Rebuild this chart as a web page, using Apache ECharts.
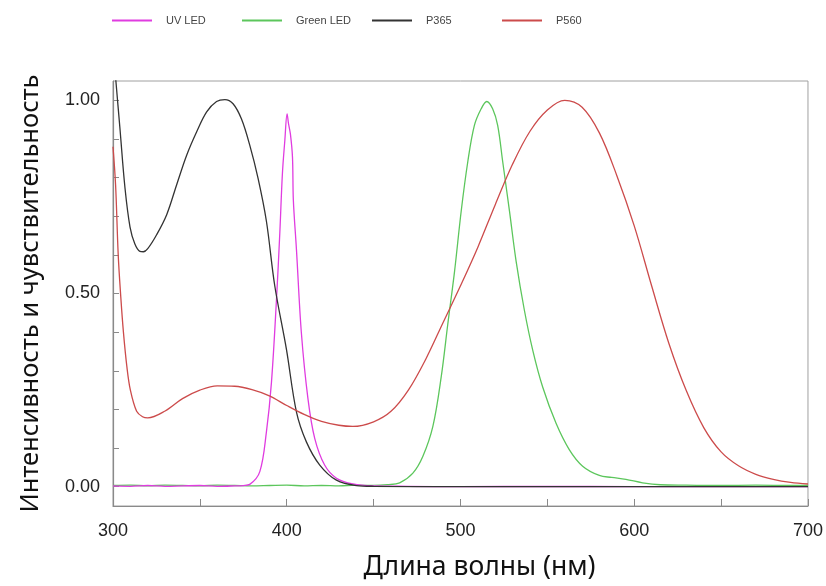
<!DOCTYPE html>
<html>
<head>
<meta charset="utf-8">
<script src="https://cdn.jsdelivr.net/npm/echarts@6/dist/echarts.min.js"></script>
<style>
html, body { margin: 0; padding: 0; background: #fff; }
#chart { width: 826px; height: 586px; }
</style>
</head>
<body>
<div id="chart"></div>
<script>
// длины волн (нм) и значения
var uvNm = [300, 310, 320, 330, 340, 350, 360, 370, 375, 378.7, 384.5, 388.3, 391.2, 394.1, 396, 397.5, 398.9, 400.2, 401, 402.1, 403.3, 403.8, 405.6, 408.4, 412.2, 416.1, 421.8, 428.6, 438.1, 450, 470, 500, 550, 600, 650, 700];
var uvLed = [0.002, 0.001, 0.003, 0.001, 0.002, 0.003, 0.001, 0.002, 0.003, 0.006, 0.039, 0.142, 0.27, 0.485, 0.656, 0.81, 0.896, 0.965, 0.94, 0.913, 0.853, 0.742, 0.613, 0.399, 0.228, 0.125, 0.056, 0.022, 0.007, 0.002, 0.001, 0, 0.001, 0, 0, 0];

var greenNm = [300, 310, 320, 330, 340, 350, 360, 370, 380, 390, 400, 410, 420, 430, 440, 450, 458, 465, 472.6, 478.3, 484.1, 488.9, 492.7, 496.6, 500.4, 504.2, 508, 511.9, 515.1, 518.5, 521.4, 524.3, 528.2, 532, 536.8, 541.6, 547.3, 555, 562.6, 570.3, 579.9, 587, 595.2, 604.8, 615, 630, 650, 670, 690, 700];
var greenLed = [0.003, 0.004, 0.002, 0.004, 0.003, 0.002, 0.004, 0.003, 0.002, 0.003, 0.004, 0.002, 0.003, 0.002, 0.004, 0.003, 0.005, 0.01, 0.035, 0.078, 0.156, 0.284, 0.421, 0.558, 0.713, 0.841, 0.935, 0.978, 0.997, 0.978, 0.935, 0.841, 0.713, 0.584, 0.456, 0.353, 0.258, 0.164, 0.096, 0.053, 0.029, 0.024, 0.019, 0.01, 0.005, 0.004, 0.003, 0.004, 0.003, 0.003];

var p365Nm = [300, 301.7, 304, 306.9, 309.8, 312.6, 315.5, 317.5, 320, 325.1, 330.9, 336.6, 342.4, 348.1, 353.9, 359.6, 364.4, 369.1, 373.9, 378.7, 383.5, 388.3, 393.1, 399.8, 405.6, 411.3, 419, 428.6, 440.1, 450, 500, 600, 700];
var p365 = [1.14, 1.048, 0.927, 0.773, 0.672, 0.628, 0.609, 0.608, 0.616, 0.652, 0.704, 0.781, 0.858, 0.918, 0.97, 0.997, 1.002, 0.991, 0.952, 0.884, 0.798, 0.687, 0.52, 0.356, 0.193, 0.116, 0.056, 0.017, 0.003, 0.001, 0, 0, 0];

var p560Nm = [300, 301.5, 303, 304.5, 306, 308, 310, 313.6, 317, 320, 330, 340, 350, 360, 370, 380, 390, 400, 410, 420, 430, 438, 450, 460, 470, 480, 490, 500, 510, 520, 530, 540, 550, 560, 570, 580, 590, 600, 610, 620, 630, 640, 650, 660, 670, 680, 690, 700];
var p560 = [0.88, 0.78, 0.6, 0.49, 0.4, 0.31, 0.25, 0.195, 0.181, 0.178, 0.196, 0.228, 0.25, 0.261, 0.26, 0.251, 0.235, 0.21, 0.187, 0.169, 0.159, 0.156, 0.168, 0.195, 0.25, 0.33, 0.425, 0.52, 0.62, 0.73, 0.835, 0.92, 0.975, 1.0, 0.982, 0.915, 0.805, 0.675, 0.52, 0.37, 0.248, 0.153, 0.09, 0.054, 0.032, 0.019, 0.011, 0.007];

var xTicks = [300, 350, 400, 450, 500, 550, 600, 650, 700];
var xLabels = [300, 400, 500, 600, 700];
var yTicks = [0, 0.1, 0.2, 0.3, 0.4, 0.5, 0.6, 0.7, 0.8, 0.9, 1.0];
var yLabels = [0, 0.5, 1.0];

var names = ['UV LED', 'Green LED', 'P365', 'P560'];
var colors = ['#e03ce0', '#5cc65c', '#333333', '#cc4b4b'];
var legendLeft = [112, 242, 372, 502];

function pairs(xs, ys) {
	return xs.map(function (x, i) { return [x, ys[i]]; });
}

var myChart = echarts.init(document.getElementById('chart'));

var mkLine = function (idx, xs, ys) {
	return {
		name: names[idx],
		type: 'line',
		data: pairs(xs, ys),
		smooth: 0.35,
		showSymbol: false,
		symbol: 'none',
		lineStyle: { color: colors[idx], width: 1.3 },
		itemStyle: { color: colors[idx] }
	};
};

// по одной легенде на серию, чтобы расставить их с равным шагом
var legends = names.map(function (n, i) {
	return {
		data: [n],
		left: legendLeft[i], top: 15, padding: 0,
		icon: 'rect',
		itemWidth: 40, itemHeight: 2,
		textStyle: { fontFamily: 'Liberation Sans', fontSize: 11, color: '#444', padding: [0, 0, 0, 9] }
	};
});

var option = {
	animation: false,
	backgroundColor: '#fff',
	grid: {
		left: 113, right: 17, top: 81, bottom: 78,
		show: true, borderColor: '#a0a0a0', borderWidth: 1
	},
	legend: legends,
	xAxis: {
		type: 'value', min: 300, max: 700, interval: 50,
		name: 'Длина волны (нм)',
		nameLocation: 'middle', nameGap: 48,
		nameTextStyle: { fontFamily: 'Noto Sans', fontSize: 26.5, color: '#111', padding: [0, 0, 0, 38] },
		axisLine: { onZero: false, lineStyle: { color: '#8a8a8a', width: 1.2 } },
		axisTick: { inside: true, length: 7, customValues: xTicks, lineStyle: { color: '#8a8a8a' } },
		axisLabel: {
			customValues: xLabels, margin: 16,
			fontFamily: 'Liberation Sans', fontSize: 18, color: '#222'
		},
		splitLine: { show: false }
	},
	yAxis: {
		type: 'value', min: -0.05, max: 1.05, interval: 0.05,
		name: 'Интенсивность и чувствительность',
		nameLocation: 'middle', nameGap: 69,
		nameTextStyle: { fontFamily: 'Noto Sans', fontSize: 25.5, color: '#111' },
		axisLine: { show: true, onZero: false, lineStyle: { color: '#8a8a8a', width: 1.2 } },
		axisTick: { show: true, inside: true, length: 6, customValues: yTicks, lineStyle: { color: '#8a8a8a' } },
		axisLabel: {
			customValues: yLabels, margin: 13,
			fontFamily: 'Liberation Sans', fontSize: 18, color: '#222',
			formatter: function (v) { return v.toFixed(2); }
		},
		splitLine: { show: false }
	},
	series: [
		mkLine(1, greenNm, greenLed),
		mkLine(0, uvNm, uvLed),
		mkLine(2, p365Nm, p365),
		mkLine(3, p560Nm, p560)
	]
};

myChart.setOption(option);
</script>
</body>
</html>
